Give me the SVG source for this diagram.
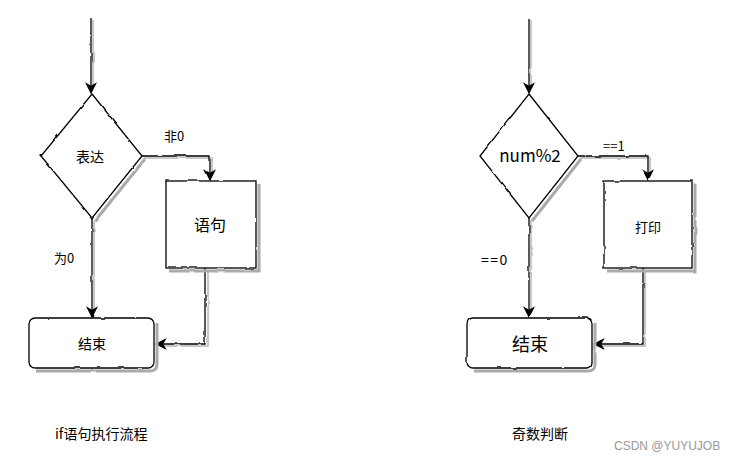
<svg xmlns="http://www.w3.org/2000/svg" width="729" height="459" viewBox="0 0 729 459">
<defs>
<filter id="rough" x="-10%" y="-10%" width="120%" height="120%">
<feTurbulence type="fractalNoise" baseFrequency="0.08" numOctaves="2" seed="3" result="n"/>
<feDisplacementMap in="SourceGraphic" in2="n" scale="2.2" xChannelSelector="R" yChannelSelector="G"/>
</filter>
<marker id="arr" viewBox="0 0 10 10" refX="9" refY="5" markerWidth="12" markerHeight="12" markerUnits="userSpaceOnUse" orient="auto">
<path d="M0,0 L10,5 L0,10 L3,5 Z" fill="#000"/>
</marker>
</defs>
<style>
.shape{fill:#fff;stroke:#000;stroke-width:1.3}
.shadow{fill:none;stroke:#aaa;stroke-width:3}
.edge{fill:none;stroke:#000;stroke-width:1.3}
.eshadow{fill:none;stroke:#c8c8c8;stroke-width:2.2}
text{font-family:"Noto Sans CJK SC","Noto Sans",sans-serif;fill:#000}
.lbl{font-size:13px}
.cap{font-size:14px}
.wm{font-family:"Liberation Sans",sans-serif;font-size:12px;fill:#999}
</style>
<rect width="729" height="459" fill="#fff"/>

<g id="edges" filter="url(#rough)">
<path class="eshadow" d="M93,20 V88 M144,158 H212 V176 M94,220 V312 M208,270 V346 H160"/>
<path class="edge" d="M91,18 V93" marker-end="url(#arr)"/>
<path class="edge" d="M142,156 H210 V180" marker-end="url(#arr)"/>
<path class="edge" d="M92,218 V317" marker-end="url(#arr)"/>
<path class="edge" d="M205,268 V344 H156" marker-end="url(#arr)"/>
<path class="eshadow" d="M531,20 V88 M580,158 H650 V176 M531,220 V312 M645,270 V346 H598"/>
<path class="edge" d="M529,18 V93" marker-end="url(#arr)"/>
<path class="edge" d="M578,156 H648 V180" marker-end="url(#arr)"/>
<path class="edge" d="M529,218 V317" marker-end="url(#arr)"/>
<path class="edge" d="M643,268 V344 H594" marker-end="url(#arr)"/>
</g>

<g id="n_expr">
<g filter="url(#rough)">
<path class="shadow" d="M145,159 L95,221"/>
<path class="shape" d="M92,94 L142,156 L92,218 L41,156 Z"/>
</g>
<text x="90" y="162" text-anchor="middle" font-size="14">表达</text>
</g>
<text x="164" y="141" class="lbl">非0</text>
<text x="54" y="263" class="lbl">为0</text>

<g id="n_stmt">
<g filter="url(#rough)">
<path class="shadow" d="M259,184 V271 H169"/>
<rect class="shape" x="166" y="181" width="90" height="87"/>
</g>
<text x="210" y="231" text-anchor="middle" font-size="16">语句</text>
</g>

<g id="n_end1">
<g filter="url(#rough)">
<path class="shadow" d="M157,323 V364 Q157,371 150,371 H36"/>
<rect class="shape" x="29" y="318" width="125" height="50" rx="6"/>
</g>
<text x="92" y="349" text-anchor="middle" font-size="14">结束</text>
</g>

<g id="n_mod">
<g filter="url(#rough)">
<path class="shadow" d="M581,159 L532,221"/>
<path class="shape" d="M529,94 L578,156 L529,218 L480,156 Z"/>
</g>
<text x="530" y="162" text-anchor="middle" font-size="17">num%2</text>
</g>
<text x="603" y="151" class="lbl">==1</text>
<text x="481" y="265" font-size="14" letter-spacing="1.5">==0</text>

<g id="n_print">
<g filter="url(#rough)">
<path class="shadow" d="M695,184 V271 H607"/>
<rect class="shape" x="604" y="181" width="88" height="87"/>
</g>
<text x="648" y="232" text-anchor="middle" font-size="13">打印</text>
</g>

<g id="n_end2">
<g filter="url(#rough)">
<path class="shadow" d="M595,323 V364 Q595,371 588,371 H474"/>
<rect class="shape" x="467" y="318" width="125" height="50" rx="6"/>
</g>
<text x="530" y="351" text-anchor="middle" font-size="18">结束</text>
</g>

<text x="55" y="439" class="cap">if语句执行流程</text>
<text x="512" y="439" class="cap">奇数判断</text>
<text x="614" y="450" class="wm">CSDN @YUYUJOB</text>
</svg>
